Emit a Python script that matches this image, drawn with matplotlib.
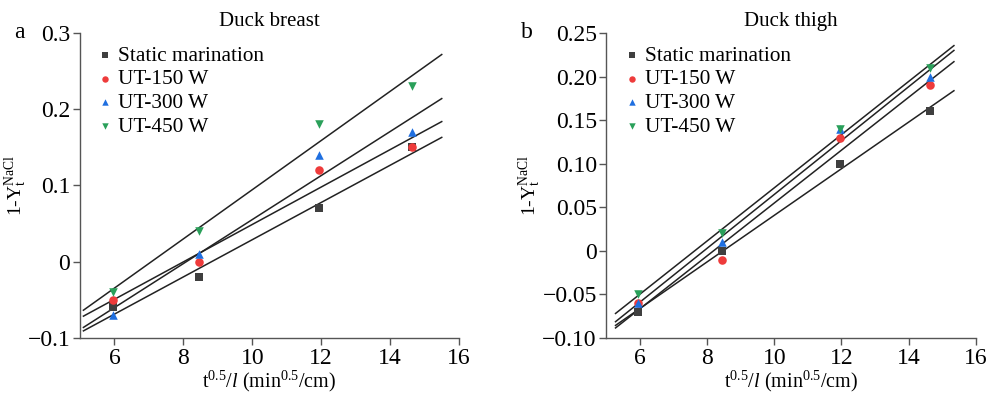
import numpy as np
import matplotlib
matplotlib.use('Agg')
import matplotlib.pyplot as plt

plt.rcParams['font.family'] = ['Liberation Serif', 'DejaVu Serif']
plt.rcParams['mathtext.fontset'] = 'custom'
plt.rcParams['mathtext.rm'] = 'Liberation Serif'
plt.rcParams['mathtext.it'] = 'Liberation Serif:italic'

# data
x_vals = [5.95, 8.45, 11.95, 14.65]
series_names = ['Static marination', 'UT-150 W', 'UT-300 W', 'UT-450 W']

breast_static = [-0.06, -0.02, 0.07, 0.15]
breast_150 = [-0.05, 0.00, 0.12, 0.15]
breast_300 = [-0.07, 0.01, 0.14, 0.17]
breast_450 = [-0.04, 0.04, 0.18, 0.23]

thigh_static = [-0.07, 0.00, 0.10, 0.16]
thigh_150 = [-0.06, -0.01, 0.13, 0.19]
thigh_300 = [-0.06, 0.01, 0.14, 0.20]
thigh_450 = [-0.05, 0.02, 0.14, 0.21]

x_ticks = [6, 8, 10, 12, 14, 16]
breast_yticks = [-0.1, 0, 0.1, 0.2, 0.3]
breast_ylabels = ['\u22120.1', '0', '0.1', '0.2', '0.3']
thigh_yticks = [-0.10, -0.05, 0, 0.05, 0.10, 0.15, 0.20, 0.25]
thigh_ylabels = ['\u22120.10', '\u22120.05', '0', '0.05', '0.10', '0.15', '0.20', '0.25']

markers = ['s', 'o', '^', 'v']
colors = ['#3f3f3f', '#ee3b3b', '#1f6fe0', '#2aa05a']

fig = plt.figure(figsize=(9.9, 3.95), dpi=100)
ax1 = fig.add_axes([0.0808, 0.1443, 0.3828, 0.7722])
ax2 = fig.add_axes([0.6126, 0.1443, 0.3730, 0.7722])


def draw(ax, data, fit_range, yticks, ylabels, ylim, title, ylab_x):
    for ys, m, c, name in zip(data, markers, colors, series_names):
        ax.scatter(x_vals, ys, marker=m, s=38, color=c, label=name, zorder=3, linewidths=0)
        k, b = np.polyfit(x_vals, ys, 1)
        xx = np.array(fit_range)
        ax.plot(xx, k * xx + b, color='#222222', lw=1.1, zorder=2)
    ax.set_xlim(5, 16)
    ax.set_ylim(*ylim)
    ax.set_xticks(x_ticks)
    ax.set_yticks(yticks)
    ax.set_yticklabels(ylabels)
    ax.tick_params(labelsize=17, length=5, width=1, color='#555555', pad=2)
    for s in ['top', 'right']:
        ax.spines[s].set_visible(False)
    for s in ['left', 'bottom']:
        ax.spines[s].set_color('#555555')
        ax.spines[s].set_linewidth(1.0)
    ax.set_title(title, fontsize=15, pad=5)
    ax.set_xlabel(r'$\mathrm{t}^{0.5}/l$ (min$^{0.5}$/cm)', fontsize=14.5, labelpad=0)
    ax.set_ylabel(r'1-$\mathrm{Y}_\mathrm{t}^\mathrm{NaCl}$', fontsize=14)
    ax.yaxis.set_label_coords(ylab_x, 0.5)
    ax.legend(loc='upper left', bbox_to_anchor=(0.0, 1.0), frameon=False, fontsize=15.3,
              handlelength=1.2, handletextpad=0.0, labelspacing=0.18,
              borderaxespad=0.2, markerscale=0.75)


draw(ax1, [breast_static, breast_150, breast_300, breast_450], [5.1, 15.5],
     breast_yticks, breast_ylabels, (-0.1, 0.3), 'Duck breast', -0.135)
draw(ax2, [thigh_static, thigh_150, thigh_300, thigh_450], [5.27, 15.35],
     thigh_yticks, thigh_ylabels, (-0.1, 0.25), 'Duck thigh', -0.173)

fig.text(19 / 990, 1 - 32 / 395, 'a', fontsize=17, ha='center', va='center')
fig.text(527 / 990, 1 - 32 / 395, 'b', fontsize=17, ha='center', va='center')

fig.savefig('out.png', dpi=100)
